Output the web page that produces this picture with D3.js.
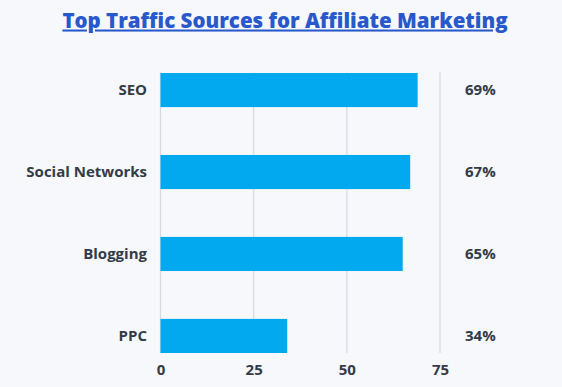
<!DOCTYPE html>
<html><head><meta charset="utf-8">
<script src="https://cdn.jsdelivr.net/npm/d3@7"></script>
<style>
html,body{margin:0;padding:0;background:#f6f8fb;}
svg{display:block;}
</style></head>
<body>
<script>
const categories = ["SEO", "Social Networks", "Blogging", "PPC"];
const values = [69, 67, 65, 34];
const valueLabels = ["69%", "67%", "65%", "34%"];
const xTicks = [0, 25, 50, 75];
const title = "Top Traffic Sources for Affiliate Marketing";

const W = 562, H = 387;
const font = "'Open Sans', sans-serif";
const svg = d3.select("body").append("svg").attr("width", W).attr("height", H);
svg.append("rect").attr("width", W).attr("height", H).attr("fill", "#f6f8fb");

const x = d3.scaleLinear().domain([0, 75]).range([160.5, 440]);
const y = d3.scaleBand().domain(categories).range([73, 353]).paddingInner(0.584).paddingOuter(0);

// title
svg.append("text").attr("x", 285).attr("y", 27.5).attr("text-anchor", "middle")
  .attr("font-family", font).attr("font-weight", 800).attr("font-size", 20.5)
  .attr("fill", "#2858cc").attr("text-decoration", "underline").text(title);

// grid
svg.append("g").selectAll("line").data(xTicks).join("line")
  .attr("x1", d => x(d)).attr("x2", d => x(d))
  .attr("y1", 72.5).attr("y2", 353)
  .attr("stroke", "#d6d9de").attr("stroke-width", 1.2);

// bars
svg.append("g").selectAll("rect").data(categories).join("rect")
  .attr("x", x(0)).attr("y", d => y(d))
  .attr("width", (d, i) => x(values[i]) - x(0))
  .attr("height", y.bandwidth())
  .attr("fill", "#03a9ef");

// x axis
const xAxis = d3.axisBottom(x).tickValues(xTicks).tickSize(0).tickPadding(0);
const gx = svg.append("g").attr("transform", "translate(0,370)").call(xAxis);
gx.select(".domain").remove();
gx.selectAll("text").attr("dy", "0.35em").attr("font-family", font).attr("font-weight", 700)
  .attr("font-size", 15).attr("fill", "#333b47");

// y axis
const yAxis = d3.axisLeft(y).tickSize(0).tickPadding(0);
const gy = svg.append("g").attr("transform", "translate(147,0)").call(yAxis);
gy.select(".domain").remove();
gy.selectAll("text").attr("font-family", font).attr("font-weight", 700)
  .attr("font-size", 15).attr("fill", "#333b47");

// value labels
svg.append("g").selectAll("text").data(categories).join("text")
  .attr("x", 465).attr("y", d => y(d) + y.bandwidth()/2).attr("dy", "0.35em")
  .attr("font-family", font).attr("font-weight", 700).attr("font-size", 15)
  .attr("fill", "#333b47").text((d, i) => valueLabels[i]);
</script>
</body></html>
